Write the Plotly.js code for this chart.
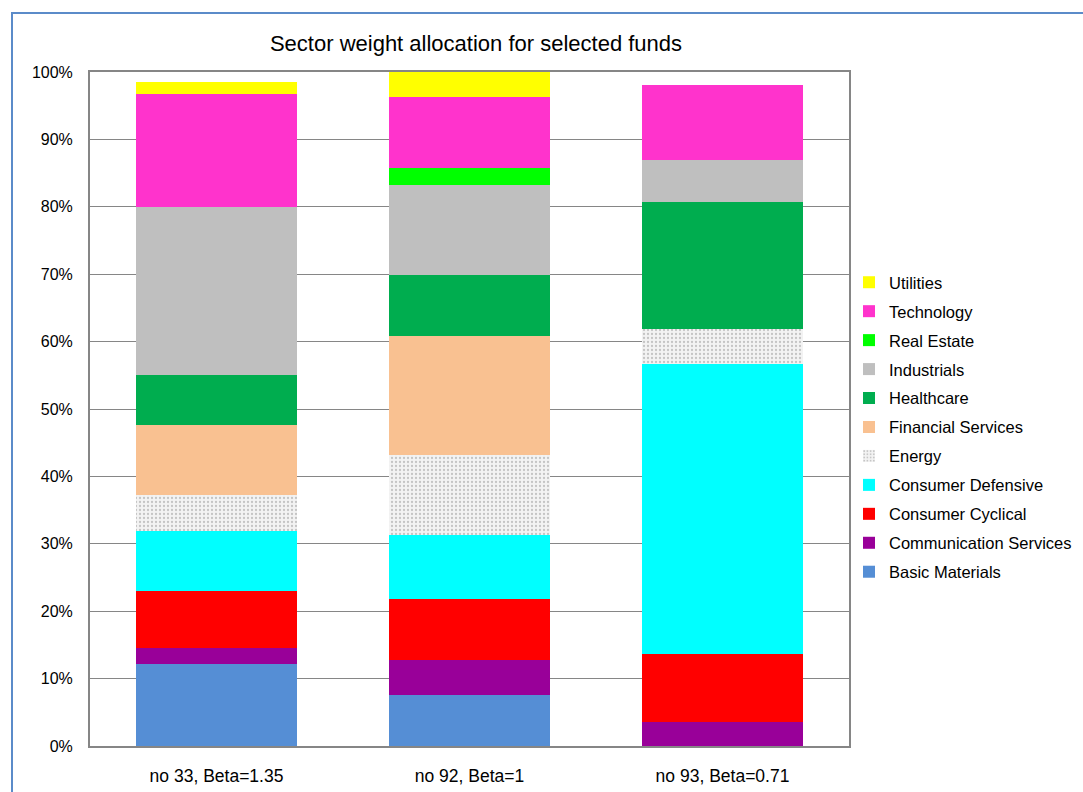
<!DOCTYPE html>
<html>
<head>
<meta charset="utf-8">
<script src="https://cdn.plot.ly/plotly-3.0.1.min.js"></script>
<style>
  html, body { margin: 0; padding: 0; background: #ffffff; }
  #chart { position: absolute; left: 0; top: 0; width: 1083px; height: 792px; }
  #frame { position: absolute; left: 11px; top: 12px; width: 1200px; height: 900px;
           border-left: 2px solid #5b8bc9; border-top: 2px solid #5b8bc9; pointer-events: none; }
</style>
</head>
<body>
<div id="chart"></div>
<div id="frame"></div>
<script>
const funds = ["no 33, Beta=1.35", "no 92, Beta=1", "no 93, Beta=0.71"];

const basicMaterials        = [12.2, 7.6, 0.0];
const communicationServices = [2.4, 5.1, 3.5];
const consumerCyclical      = [8.4, 9.1, 10.1];
const consumerDefensive     = [8.9, 9.5, 43.1];
const energy                = [5.3, 11.9, 5.2];
const financialServices     = [10.5, 17.7, 0.0];
const healthcare            = [7.4, 9.0, 18.8];
const industrials           = [24.9, 13.4, 6.3];
const realEstate            = [0.0, 2.4, 0.0];
const technology            = [16.8, 10.6, 11.0];
const utilities             = [1.7, 3.7, 0.0];

const yTicks = [0, 10, 20, 30, 40, 50, 60, 70, 80, 90, 100];

const series = [
  {name: "Basic Materials", values: basicMaterials, color: "#558ed5"},
  {name: "Communication Services", values: communicationServices, color: "#990099"},
  {name: "Consumer Cyclical", values: consumerCyclical, color: "#ff0000"},
  {name: "Consumer Defensive", values: consumerDefensive, color: "#00ffff"},
  {name: "Energy", values: energy, color: "#efefef", pattern: true},
  {name: "Financial Services", values: financialServices, color: "#f9c191"},
  {name: "Healthcare", values: healthcare, color: "#00ad4f"},
  {name: "Industrials", values: industrials, color: "#bfbfbf"},
  {name: "Real Estate", values: realEstate, color: "#00ff00"},
  {name: "Technology", values: technology, color: "#ff33cc"},
  {name: "Utilities", values: utilities, color: "#ffff00"}
];

const traces = series.map((s, i) => {
  const marker = {color: s.color, line: {width: 0}};
  if (s.pattern) {
    marker.pattern = {shape: ".", fgcolor: "#c4c4c4", bgcolor: "#f3f3f3", size: 4, solidity: 0.25, fillmode: "replace"};
  }
  return {
    type: "bar",
    name: s.name,
    x: funds,
    y: s.values,
    marker: marker,
    width: 0.64,
    legendgroup: "g" + i,
    legendrank: 100 * (series.length - i),
    hoverinfo: "name+y"
  };
});

const layout = {
  width: 1083,
  height: 792,
  paper_bgcolor: "rgba(0,0,0,0)",
  plot_bgcolor: "#ffffff",
  barmode: "stack",
  font: {family: "Liberation Sans, Arial, sans-serif", color: "#000000", size: 16},
  margin: {l: 90, r: 234, t: 72, b: 46},
  title: {
    text: "Sector weight allocation for selected funds",
    font: {size: 22, color: "#000000"},
    x: 476 / 1083, xanchor: "center", xref: "container",
    y: 1 - 43 / 792, yanchor: "middle", yref: "container"
  },
  xaxis: {
    type: "category",
    showline: true, linecolor: "#868686", linewidth: 2,
    mirror: true,
    showgrid: false, zeroline: false,
    ticks: "", ticklabelstandoff: 13,
    tickfont: {size: 17.5}
  },
  yaxis: {
    range: [0, 100],
    tickvals: yTicks,
    ticktext: yTicks.map(v => v + "%"),
    showline: true, linecolor: "#868686", linewidth: 2,
    mirror: true,
    showgrid: true, gridcolor: "#868686", gridwidth: 1,
    zeroline: false,
    ticks: "", ticklabelstandoff: 12,
    tickfont: {size: 16}
  },
  legend: {
    traceorder: "grouped",
    xref: "container", yref: "container",
    x: 849 / 1083, xanchor: "left",
    y: 1 - 427 / 792, yanchor: "middle",
    font: {size: 16.5},
    tracegroupgap: 4.5,
    itemwidth: 30,
    bgcolor: "rgba(0,0,0,0)"
  },
  showlegend: true
};

Plotly.newPlot("chart", traces, layout, {displayModeBar: false, staticPlot: true});
</script>
</body>
</html>
